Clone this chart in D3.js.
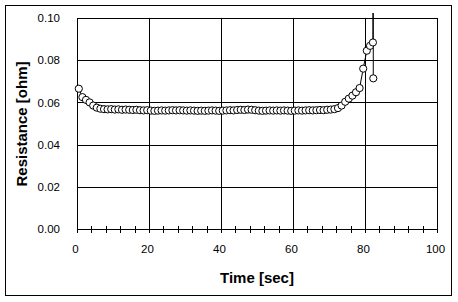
<!DOCTYPE html>
<html>
<head>
<meta charset="utf-8">
<script src="https://cdn.jsdelivr.net/npm/d3@7"></script>
<style>
  body { margin: 0; background: #fff; }
  svg { display: block; font-family: 'Liberation Sans', Arial, sans-serif; }
</style>
</head>
<body>
<svg width="458" height="302"></svg>
<script>
var times = [0.5, 1.5, 2.5, 3.5, 4.5, 5.5, 6.5, 7.5, 8.5, 9.5,
  10.5, 11.5, 12.5, 13.5, 14.5, 15.5, 16.5, 17.5, 18.5, 19.5,
  20.5, 21.5, 22.5, 23.5, 24.5, 25.5, 26.5, 27.5, 28.5, 29.5,
  30.5, 31.5, 32.5, 33.5, 34.5, 35.5, 36.5, 37.5, 38.5, 39.5,
  40.5, 41.5, 42.5, 43.5, 44.5, 45.5, 46.5, 47.5, 48.5, 49.5,
  50.5, 51.5, 52.5, 53.5, 54.5, 55.5, 56.5, 57.5, 58.5, 59.5,
  60.5, 61.5, 62.5, 63.5, 64.5, 65.5, 66.5, 67.5, 68.5, 69.5,
  70.5, 71.5, 72.5, 73.5, 74.5, 75.5, 76.5, 77.5, 78.5, 79.5,
  80.5, 81.4, 82.2, 82.3, 82.3]

var resistance = [0.0665, 0.0625, 0.0612, 0.0600, 0.0585, 0.0575, 0.0570, 0.0568, 0.0567, 0.0568,
  0.0566, 0.0567, 0.0565, 0.0566, 0.0565, 0.0564, 0.0565, 0.0563, 0.0562, 0.0563,
  0.0561, 0.0560, 0.0561, 0.0562, 0.0561, 0.0562, 0.0563, 0.0562, 0.0563, 0.0562,
  0.0561, 0.0562, 0.0561, 0.0560, 0.0561, 0.0560, 0.0561, 0.0562, 0.0561, 0.0560,
  0.0561, 0.0562, 0.0563, 0.0562, 0.0564, 0.0565, 0.0564, 0.0566, 0.0565, 0.0563,
  0.0561, 0.0560, 0.0561, 0.0562, 0.0561, 0.0562, 0.0561, 0.0562, 0.0561, 0.0560,
  0.0561, 0.0562, 0.0561, 0.0562, 0.0563, 0.0562, 0.0563, 0.0564, 0.0563, 0.0565,
  0.0566, 0.0568, 0.0573, 0.0585, 0.0603, 0.0618, 0.0632, 0.0648, 0.0668, 0.0760,
  0.0845, 0.0868, 0.0884, 1.0000, 0.0714]

var xTicks = [0, 20, 40, 60, 80, 100]
var xMinor = [4, 8, 12, 16, 24, 28, 32, 36, 44, 48, 52, 56, 64, 68, 72, 76, 84, 88, 92, 96]
var yTicks = [0, 0.02, 0.04, 0.06, 0.08, 0.10]

var svg = d3.select('svg')

var pLeft = 77, pRight = 437, pTop = 18, pBottom = 229

var x = d3.scaleLinear().domain([0, 100]).range([pLeft, pRight])
var y = d3.scaleLinear().domain([0, 0.1]).range([pBottom, pTop])

// outer chart border
svg.append('rect')
  .attr('x', 5.5).attr('y', 5.5)
  .attr('width', 446).attr('height', 290)
  .style('fill', '#fff')
  .style('stroke', '#000')
  .style('stroke-width', 1)

// gridlines
svg.append('g')
  .selectAll('line')
  .data(yTicks)
  .enter()
  .append('line')
  .attr('x1', pLeft).attr('x2', pRight + 1)
  .attr('y1', function (d) { return Math.round(y(d)) + 0.5 })
  .attr('y2', function (d) { return Math.round(y(d)) + 0.5 })
  .style('stroke', '#000')
  .style('shape-rendering', 'crispEdges')

svg.append('g')
  .selectAll('line')
  .data(xTicks)
  .enter()
  .append('line')
  .attr('x1', function (d) { return Math.round(x(d)) + 0.5 })
  .attr('x2', function (d) { return Math.round(x(d)) + 0.5 })
  .attr('y1', pTop).attr('y2', pBottom + 4)
  .style('stroke', '#000')
  .style('shape-rendering', 'crispEdges')

// minor ticks across x axis
svg.append('g')
  .selectAll('line')
  .data(xMinor)
  .enter()
  .append('line')
  .attr('x1', function (d) { return Math.round(x(d)) + 0.5 })
  .attr('x2', function (d) { return Math.round(x(d)) + 0.5 })
  .attr('y1', pBottom - 3).attr('y2', pBottom + 4)
  .style('stroke', '#000')
  .style('shape-rendering', 'crispEdges')

// tick labels via axes, lines hidden
var xAxis = svg.append('g')
  .attr('transform', 'translate(-2,' + (pBottom + 13) + ')')
  .call(d3.axisBottom(x).tickValues(xTicks).tickSize(0).tickFormat(d3.format('d')))
xAxis.select('.domain').remove()
xAxis.selectAll('text')
  .style('font-size', '11.5px')
  .style('font-family', "'Liberation Sans', Arial, sans-serif")
  .style('fill', '#000')

var yAxis = svg.append('g')
  .attr('transform', 'translate(' + (pLeft - 14) + ',0)')
  .call(d3.axisLeft(y).tickValues(yTicks).tickSize(0).tickFormat(d3.format('.2f')))
yAxis.select('.domain').remove()
yAxis.selectAll('text')
  .style('font-size', '11.5px')
  .style('font-family', "'Liberation Sans', Arial, sans-serif")
  .style('fill', '#000')

// clip for series (Excel lets the line run a bit past the plot)
svg.append('clipPath').attr('id', 'clip')
  .append('rect')
  .attr('x', 6).attr('y', 13)
  .attr('width', 445).attr('height', pBottom - 13 + 10)

var pts = times.map(function (t, i) { return {t: t, v: resistance[i]} })

var ln = d3.line()
  .x(function (d) { return x(d.t) })
  .y(function (d) { return y(d.v) })

var series = svg.append('g').attr('clip-path', 'url(#clip)')

series.append('path')
  .datum(pts)
  .attr('d', ln)
  .style('fill', 'none')
  .style('stroke', '#000')
  .style('stroke-width', 1)

series.selectAll('circle')
  .data(pts)
  .enter()
  .append('circle')
  .attr('cx', function (d) { return x(d.t) })
  .attr('cy', function (d) { return y(d.v) })
  .attr('r', 3.6)
  .style('fill', '#fff')
  .style('stroke', '#000')
  .style('stroke-width', 1)

// axis titles
svg.append('text')
  .attr('x', 257).attr('y', 283)
  .attr('text-anchor', 'middle')
  .style('font-size', '15px')
  .style('font-weight', 'bold')
  .text('Time [sec]')

svg.append('text')
  .attr('transform', 'translate(27,124) rotate(-90)')
  .attr('text-anchor', 'middle')
  .style('font-size', '15px')
  .style('font-weight', 'bold')
  .text('Resistance [ohm]')
</script>
</body>
</html>
